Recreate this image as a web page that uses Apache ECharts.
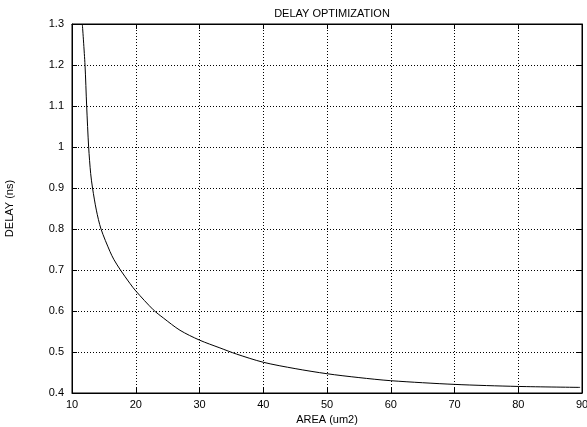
<!DOCTYPE html>
<html>
<head>
<meta charset="utf-8">
<script src="https://cdn.jsdelivr.net/npm/echarts@6/dist/echarts.min.js"></script>
<style>
html,body{margin:0;padding:0;background:#fff;}
#chart{width:587px;height:427px;}
</style>
</head>
<body>
<div id="chart"></div>
<script>
var areaValues = [11.62, 12.04, 12.3, 12.61, 12.93, 13.22, 13.82, 14.55, 15.96, 16.59, 17.6, 19.1, 20, 22.75, 24.33, 26.94, 30, 33.2, 35.8, 40, 45, 50, 55, 60, 70, 80, 89.7];
var delayValues = [1.3, 1.2, 1.1, 1.0, 0.935, 0.9, 0.846, 0.8, 0.745, 0.725, 0.7, 0.667, 0.649, 0.603, 0.583, 0.553, 0.529, 0.51, 0.495, 0.475, 0.4595, 0.447, 0.4376, 0.43, 0.421, 0.416, 0.4137];
var titleText = 'DELAY OPTIMIZATION';
var xName = 'AREA (um2)';
var yName = 'DELAY (ns)';

var data = areaValues.map(function (a, i) { return [a, delayValues[i]]; });
var font = 'Liberation Sans, Arial, sans-serif';
var gridLine = { show: true, lineStyle: { color: '#000', type: [1, 2], width: 1 } };

var chart = echarts.init(document.getElementById('chart'), null, { renderer: 'canvas' });
chart.setOption({
  animation: false,
  backgroundColor: '#fff',
  title: {
    text: titleText, left: 327, top: 3, textAlign: 'center',
    textStyle: { fontFamily: font, fontSize: 11, fontWeight: 'normal', color: '#000' }
  },
  grid: { left: 72, top: 24, right: 5, bottom: 34, show: true, borderColor: '#000', borderWidth: 1,
    containLabel: false, outerBoundsMode: 'none' },
  xAxis: [{
    type: 'value', min: 10, max: 90, interval: 10,
    name: xName, nameLocation: 'middle', nameGap: 17,
    nameTextStyle: { fontFamily: font, fontSize: 11, color: '#000' },
    axisLine: { show: true, onZero: false, lineStyle: { color: '#000', width: 1 } },
    axisTick: { show: true, inside: true, length: 5, lineStyle: { color: '#000' } },
    axisLabel: { fontFamily: font, fontSize: 11, color: '#000', margin: 6 },
    splitLine: gridLine
  }, {
    type: 'value', min: 10, max: 90, interval: 10, position: 'top',
    axisLine: { show: true, onZero: false, lineStyle: { color: '#000', width: 1 } },
    axisTick: { show: true, inside: true, length: 5, lineStyle: { color: '#000' } },
    axisLabel: { show: false }, splitLine: { show: false }
  }],
  yAxis: [{
    type: 'value', min: 0.4, max: 1.3, interval: 0.1,
    name: yName, nameLocation: 'middle', nameGap: 57, nameRotate: 90,
    nameTextStyle: { fontFamily: font, fontSize: 11, color: '#000' },
    axisLine: { show: true, onZero: false, lineStyle: { color: '#000', width: 1 } },
    axisTick: { show: true, inside: true, length: 5, lineStyle: { color: '#000' } },
    axisLabel: { fontFamily: font, fontSize: 11, color: '#000', margin: 8,
      formatter: function (v) { return String(Math.round(v * 10) / 10); } },
    splitLine: gridLine
  }, {
    type: 'value', min: 0.4, max: 1.3, interval: 0.1, position: 'right',
    axisLine: { show: true, onZero: false, lineStyle: { color: '#000', width: 1 } },
    axisTick: { show: true, inside: true, length: 5, lineStyle: { color: '#000' } },
    axisLabel: { show: false }, splitLine: { show: false }
  }],
  series: [{
    type: 'line', data: data, showSymbol: false, symbol: 'none',
    smooth: 0.3, clip: true,
    lineStyle: { color: '#000', width: 1 }
  }]
});
</script>
</body>
</html>
